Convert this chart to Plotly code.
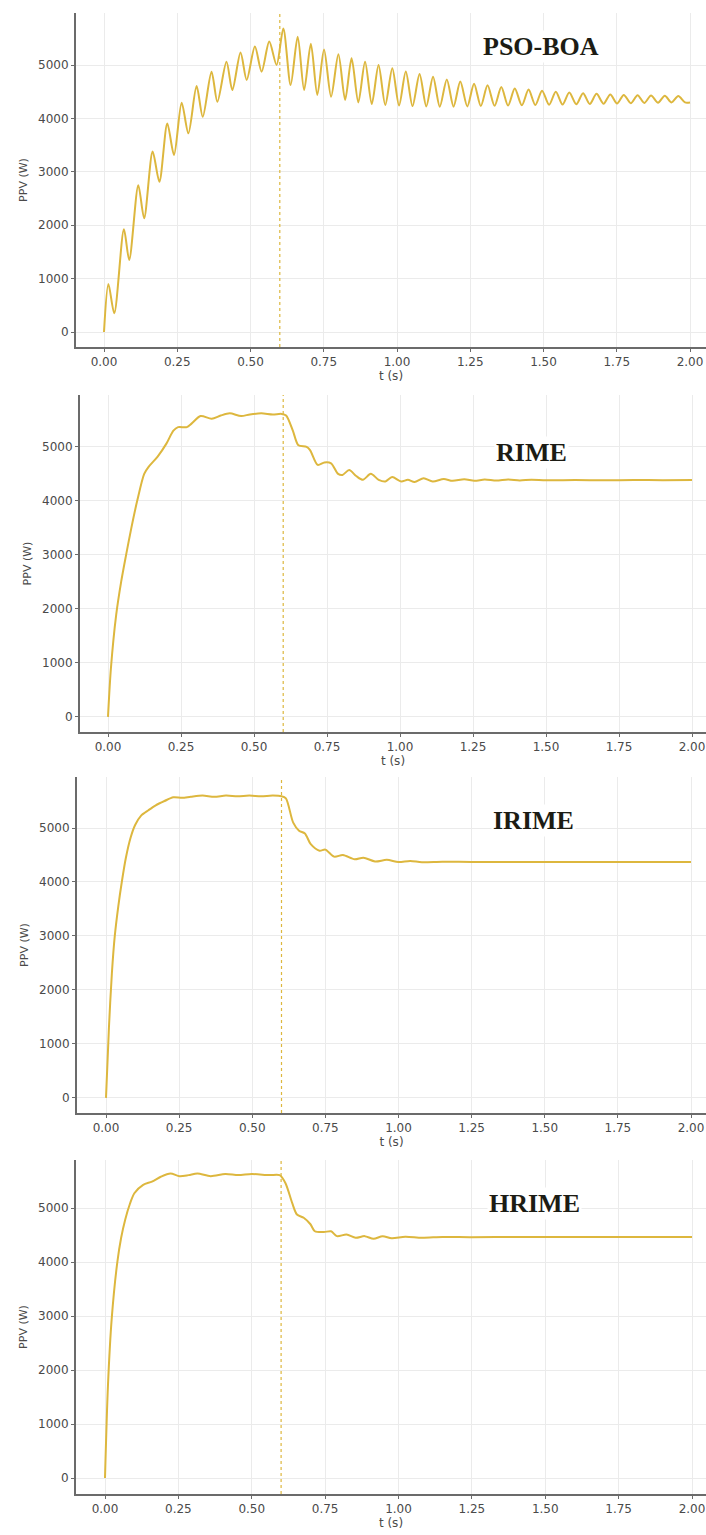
import plotly.graph_objects as go
from plotly.subplots import make_subplots

# ---------------- data ----------------
x_tick_vals = [0.0, 0.25, 0.5, 0.75, 1.0, 1.25, 1.5, 1.75, 2.0]
x_tick_text = ["0.00", "0.25", "0.50", "0.75", "1.00", "1.25", "1.50", "1.75", "2.00"]
y_tick_vals = [0, 1000, 2000, 3000, 4000, 5000]
y_tick_text = ["0", "1000", "2000", "3000", "4000", "5000"]
t_change = 0.6
titles = ["PSO-BOA", "RIME", "IRIME", "HRIME"]

t_pso = [0.000, 0.015, 0.035, 0.068, 0.086, 0.117, 0.137, 0.166, 0.189, 0.216,
         0.239, 0.265, 0.288, 0.316, 0.337, 0.367, 0.387, 0.418, 0.438, 0.466,
         0.487, 0.515, 0.538, 0.564, 0.589, 0.612, 0.637, 0.661, 0.683, 0.706,
         0.728, 0.751, 0.775, 0.800, 0.823, 0.845, 0.868, 0.891, 0.914, 0.937,
         0.960, 0.984, 1.007, 1.030, 1.053, 1.077, 1.100, 1.123, 1.146, 1.170,
         1.193, 1.216, 1.240, 1.263, 1.286, 1.309, 1.333, 1.356, 1.379, 1.402,
         1.426, 1.449, 1.472, 1.495, 1.519, 1.542, 1.565, 1.588, 1.612, 1.635,
         1.658, 1.681, 1.705, 1.728, 1.751, 1.774, 1.798, 1.821, 1.844, 1.867,
         1.891, 1.914, 1.937, 1.960, 1.983, 2.000]
p_pso = [0, 900, 350, 1925, 1350, 2750, 2130, 3380, 2815, 3905,
         3315, 4295, 3720, 4605, 4030, 4875, 4310, 5060, 4530, 5235,
         4720, 5345, 4875, 5440, 5000, 5685, 4625, 5530, 4530, 5400,
         4440, 5290, 4405, 5200, 4345, 5125, 4300, 5060, 4270, 5000,
         4250, 4940, 4240, 4880, 4230, 4830, 4225, 4780, 4220, 4730,
         4220, 4690, 4225, 4650, 4230, 4620, 4235, 4590, 4240, 4560,
         4245, 4540, 4250, 4520, 4255, 4500, 4260, 4485, 4265, 4470,
         4270, 4460, 4275, 4450, 4280, 4440, 4285, 4435, 4290, 4430,
         4295, 4425, 4300, 4420, 4300, 4300]

t_rime = [0.000, 0.010, 0.028, 0.045, 0.062, 0.080, 0.100, 0.124, 0.139, 0.170,
          0.200, 0.224, 0.240, 0.270, 0.286, 0.317, 0.355, 0.386, 0.417, 0.456,
          0.486, 0.525, 0.564, 0.595, 0.610, 0.633, 0.652, 0.680, 0.692, 0.718,
          0.741, 0.764, 0.788, 0.803, 0.826, 0.850, 0.873, 0.900, 0.927, 0.950,
          0.973, 1.004, 1.027, 1.050, 1.081, 1.112, 1.150, 1.180, 1.220, 1.255,
          1.290, 1.330, 1.370, 1.410, 1.450, 1.500, 1.600, 1.700, 1.800, 1.900,
          2.000]
p_rime = [0, 900, 1890, 2500, 3000, 3500, 4000, 4500, 4630, 4820,
          5060, 5300, 5365, 5365, 5430, 5570, 5520, 5580, 5620, 5570,
          5600, 5620, 5600, 5610, 5580, 5300, 5030, 5000, 4940, 4665,
          4710, 4695, 4500, 4480, 4570, 4460, 4390, 4500, 4390, 4360,
          4440, 4360, 4390, 4350, 4420, 4360, 4405, 4370, 4400, 4370,
          4395, 4375, 4395, 4378, 4392, 4380, 4385, 4382, 4385, 4383,
          4385]

t_irime = [0.000, 0.010, 0.020, 0.030, 0.042, 0.054, 0.068, 0.084, 0.100, 0.120,
           0.145, 0.170, 0.200, 0.230, 0.260, 0.290, 0.330, 0.370, 0.410, 0.450,
           0.490, 0.530, 0.570, 0.600, 0.615, 0.640, 0.660, 0.680, 0.700, 0.730,
           0.750, 0.780, 0.810, 0.850, 0.880, 0.920, 0.960, 1.000, 1.040, 1.080,
           1.150, 1.250, 1.400, 1.600, 1.800, 2.000]
p_irime = [0, 1300, 2300, 3000, 3550, 4000, 4450, 4820, 5060, 5230,
           5330, 5420, 5500, 5570, 5560, 5580, 5600, 5580, 5600, 5590,
           5600, 5590, 5600, 5590, 5550, 5100, 4950, 4900, 4700, 4580,
           4600, 4470, 4500, 4420, 4450, 4380, 4410, 4370, 4390, 4365,
           4375, 4370, 4372, 4370, 4372, 4370]

t_hrime = [0.000, 0.010, 0.023, 0.042, 0.055, 0.069, 0.085, 0.100, 0.130, 0.160,
           0.190, 0.223, 0.254, 0.285, 0.315, 0.360, 0.410, 0.454, 0.500, 0.560,
           0.595, 0.615, 0.638, 0.654, 0.677, 0.700, 0.715, 0.746, 0.770, 0.790,
           0.823, 0.854, 0.885, 0.915, 0.946, 0.977, 1.023, 1.080, 1.150, 1.250,
           1.400, 1.600, 1.800, 2.000]
p_hrime = [0, 1700, 2960, 4000, 4450, 4790, 5080, 5275, 5430, 5490,
           5580, 5640, 5590, 5610, 5640, 5590, 5630, 5610, 5630, 5610,
           5610, 5460, 5090, 4880, 4820, 4700, 4570, 4555, 4570, 4480,
           4510, 4450, 4480, 4430, 4480, 4440, 4470, 4450, 4465, 4460,
           4465, 4462, 4465, 4462]

series_t = [t_pso, t_rime, t_irime, t_hrime]
series_p = [p_pso, p_rime, p_irime, p_hrime]
label_pos_t = [1.49, 1.45, 1.46, 1.465]
label_pos_p = [5340, 4900, 5130, 5080]

# ---------------- layout geometry (pixels in a 706 x 1535 page) ----------------
W, H = 706, 1535
panels = [
    dict(L=76, x0=104, x2=690, top=13, bot=347, yr=[-281, 5974]),
    dict(L=80, x0=108, x2=692, top=395, bot=732, yr=[-280, 5960]),
    dict(L=77, x0=106, x2=691, top=777, bot=1113, yr=[-280, 5945]),
    dict(L=76, x0=105, x2=692, top=1160, bot=1494, yr=[-296, 5890]),
]

LINE = "#DDB73E"
GRID = "#ebebeb"
AX = "#6b6b6b"
TXT = "#4a4a4a"
FONT = "DejaVu Sans"

fig = make_subplots(rows=4, cols=1)

for i in range(4):
    r = i + 1
    fig.add_trace(go.Scatter(x=series_t[i], y=series_p[i], mode="lines",
                             line=dict(color=LINE, width=2.0, shape="spline", smoothing=0.8),
                             showlegend=False, hoverinfo="skip"), row=r, col=1)
    pn = panels[i]
    s = (pn["x2"] - pn["x0"]) / 2.0
    xlo = (pn["L"] - pn["x0"]) / s
    xhi = (W - pn["x0"]) / s
    xa = "xaxis" if i == 0 else f"xaxis{r}"
    ya = "yaxis" if i == 0 else f"yaxis{r}"
    fig.layout[xa].update(
        domain=[pn["L"] / W, 1.0], range=[xlo, xhi],
        tickvals=x_tick_vals, ticktext=x_tick_text,
        showgrid=True, gridcolor=GRID, gridwidth=1, zeroline=False,
        showline=True, linecolor=AX, linewidth=2, mirror=False,
        ticks="outside", ticklen=3, tickcolor=AX, tickwidth=1,
        tickfont=dict(family=FONT, size=12, color=TXT),
        title=dict(text="t (s)", font=dict(family=FONT, size=12, color=TXT), standoff=2),
    )
    fig.layout[ya].update(
        domain=[1 - pn["bot"] / H, 1 - pn["top"] / H], range=pn["yr"],
        tickvals=y_tick_vals, ticktext=y_tick_text,
        showgrid=True, gridcolor=GRID, gridwidth=1, zeroline=False,
        showline=True, linecolor=AX, linewidth=2, mirror=False,
        ticks="outside", ticklen=3, tickcolor=AX, tickwidth=1,
        tickfont=dict(family=FONT, size=12, color=TXT),
        title=dict(text="PPV (W)", font=dict(family=FONT, size=11, color=TXT), standoff=8),
    )
    xref = "x" if i == 0 else f"x{r}"
    yref = "y" if i == 0 else f"y{r}"
    fig.add_shape(type="line", xref=xref, yref=f"{yref} domain",
                  x0=t_change, x1=t_change, y0=0, y1=1,
                  line=dict(color=LINE, width=1.2, dash="dot"))
    fig.add_annotation(x=label_pos_t[i], y=label_pos_p[i], xref=xref, yref=yref,
                       text=f"<b>{titles[i]}</b>", showarrow=False,
                       font=dict(family="Liberation Serif", size=26, color="#1c1c14"),
                       bgcolor="white", xanchor="center", yanchor="middle")

fig.update_layout(width=W, height=H, margin=dict(l=0, r=0, t=0, b=0),
                  paper_bgcolor="white", plot_bgcolor="white", showlegend=False)

fig.write_html("out.html")
